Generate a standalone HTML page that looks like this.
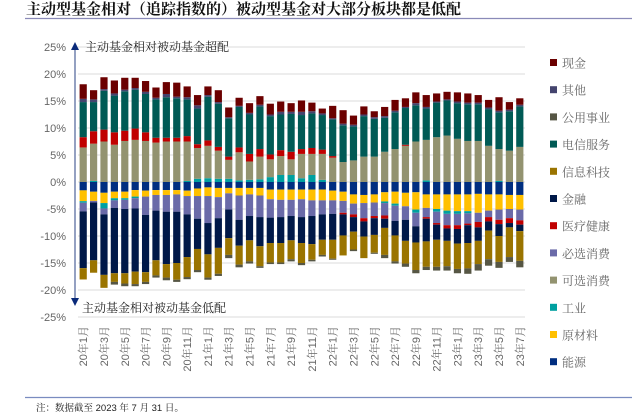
<!DOCTYPE html>
<html><head><meta charset="utf-8"><style>
html,body{margin:0;padding:0;background:#fff;width:632px;height:415px;overflow:hidden}
svg{display:block;font-family:"Liberation Sans","Noto Sans CJK SC",sans-serif}
.cj{font-family:"Liberation Sans","Noto Serif CJK SC",serif}
</style></head><body>
<svg id="chart" width="632" height="415" viewBox="0 0 632 415">
<text x="26" y="14" font-size="15" font-weight="bold" fill="#111" font-family="'Noto Serif CJK SC',serif">主动型基金相对（追踪指数的）被动型基金对大部分板块都是低配</text>
<line x1="25" y1="18.5" x2="632" y2="18.5" stroke="#8a8ab8" stroke-width="1.2"/>
<g id="grid"></g><g id="bars"></g><g id="axis"></g><g id="legend"></g>
<line x1="25" y1="397.5" x2="632" y2="397.5" stroke="#7a8cc0" stroke-width="1.2"/>
<text x="36" y="411" font-size="9.5" fill="#222" class="cj">注：数据截至 2023 年 7 月 31 日。</text>
</svg>
<script>
const months=[];for(let y=20;y<=23;y++)for(let m=1;m<=12;m++){if(y===23&&m>7)break;months.push(y+"年"+m+"月");}
const yTicks=[25,20,15,10,5,0,-5,-10,-15,-20,-25];
const seriesNames=["能源","原材料","工业","可选消费","必选消费","医疗健康","金融","电信服务","信息科技","公用事业","其他","现金"];
const seriesColors=["#002e80","#ffc000","#00a0a0","#939370","#6a6aa8","#c00000","#001848","#005a55","#9a7400","#565644","#44446e","#6b0000"];
const energy=[-1.55,-1.8,-2.0,-1.8,-1.8,-1.5,-1.6,-1.5,-1.5,-1.5,-1.6,-1.2,-1.0,-1.1,-1.1,-1.1,-1.1,-1.1,-1.4,-1.4,-1.4,-1.4,-1.4,-1.4,-1.6,-1.8,-2.3,-2.4,-2.3,-1.9,-1.8,-2.0,-1.9,-2.3,-2.3,-2.3,-2.3,-2.3,-2.2,-2.3,-2.3,-2.4,-2.4];
const materials=[-2.0,-1.7,-1.9,-1.2,-1.2,-1.2,-1.1,-0.9,-0.9,-0.8,-1.0,-1.4,-1.6,-1.7,-1.0,-1.4,-1.2,-1.4,-1.8,-1.9,-1.9,-1.8,-2.0,-2.0,-1.8,-1.7,-1.7,-1.5,-1.5,-1.7,-2.2,-2.5,-3.2,-2.5,-2.7,-3.0,-3.1,-3.1,-3.5,-3.0,-2.8,-2.6,-2.7];
const industrials=[-0.3,0.2,-1.0,-0.4,-0.3,-0.3,0,0,0,0,0.2,0.6,0.7,0.6,0.6,0.3,0.4,0.5,0.9,1.3,1.3,0.7,1.3,0.4,0,0,0,0,0,-0.3,-0.4,0,-0.6,0.3,-0.5,-0.6,-0.5,-0.4,0,0,0.2,0,0];
const discretionary=[6.4,6.9,7.5,6.9,7.6,7.8,7.6,7.3,7.5,7.5,7.3,5.7,6.0,5.2,3.5,5.2,3.4,4.2,3.3,3.5,2.9,4.5,3.9,4.8,4.5,3.7,4.0,4.7,4.7,5.6,6.1,6.7,7.5,7.5,8.3,8.6,8.0,7.6,7.6,6.7,5.9,5.8,6.5];
const staples=[-1.6,-0.3,-1.1,-1.4,-1.7,-1.9,-3.4,-2.9,-3.1,-3.2,-3.4,-4.2,-5.0,-3.9,-3.0,-4.5,-4.0,-4.0,-3.4,-3.2,-3.0,-3.3,-2.9,-2.6,-2.5,-2.2,-2.0,-2.8,-2.5,-2.3,-2.8,-2.5,-2.5,-1.7,-2.1,-2.1,-2.1,-1.9,-1.7,-1.2,-1.9,-1.7,-2.0];
const healthcare=[1.9,2.3,2.2,2.3,1.9,2.1,1.6,0.9,0.7,0.7,1.0,0.7,1.0,0.7,0.6,0.9,1.4,1.4,0.9,1.1,1.4,0.9,1.1,0.8,0.3,-0.3,-0.5,-0.6,-0.4,-0.6,0,0.2,0,-0.3,-0.3,-0.6,-0.7,-0.3,-1.0,-0.8,-0.8,-0.9,-0.8];
const financials=[-10.5,-10.7,-11.2,-12.1,-11.9,-11.7,-10.6,-9.2,-9.7,-9.5,-7.9,-5.6,-5.8,-5.5,-5.3,-4.8,-4.5,-5.4,-4.7,-4.8,-4.5,-4.8,-5.2,-4.7,-4.8,-3.9,-2.7,-2.8,-3.1,-1.7,-2.7,-3.9,-3.0,-4.2,-2.8,-2.3,-2.7,-3.3,-2.5,-1.7,-2.2,-0.8,-1.2];
const telecom=[6.5,5.4,7.2,6.8,7.3,7.2,7.1,7.1,7.5,7.3,6.8,6.6,8.1,8.0,7.1,7.5,7.3,7.9,7.1,6.6,7.0,6.3,6.4,6.4,6.8,6.8,6.3,7.5,7.0,6.3,6.8,6.8,6.7,5.8,6.4,6.5,6.6,6.8,6.8,6.8,6.8,7.3,7.5];
const infotech=[-2.1,-2.3,-2.4,-1.6,-1.9,-2.3,-1.8,-2.8,-2.5,-3.1,-3.7,-3.9,-4.3,-4.8,-3.1,-3.5,-3.9,-3.7,-3.6,-3.6,-3.5,-3.7,-2.9,-2.8,-3.5,-3.7,-3.3,-4.0,-3.3,-5.0,-4.8,-4.2,-5.1,-4.7,-5.0,-4.7,-4.7,-4.7,-4.3,-5.3,-4.8,-5.5,-5.5];
const utilities=[0,0,0,-0.5,-0.5,-0.4,-0.4,-0.4,-0.5,-0.4,-0.4,-0.4,-0.4,-0.4,-0.6,-0.5,-0.4,-0.3,-0.3,-0.3,-0.4,-0.4,-0.3,-0.3,-0.2,0,-0.3,0,-0.2,-0.6,-0.4,-0.6,-0.6,-0.6,-0.7,-0.8,-0.8,-1.0,-1.2,-1.2,-1.1,-0.9,-1.2];
const others=[0.6,0.5,0.3,0.4,0.3,0.3,0.4,0.3,0.6,0.3,0.4,0.6,0.3,0.3,0.2,0.2,0.3,0.3,0.3,0.5,0.4,0.6,0.4,0.3,0.2,0.3,0.3,0.3,0.3,0.3,0.3,0.2,0.4,0.3,0.2,0.2,0.3,0.3,0.3,0.3,0.3,0.3,0.3];
const cash=[2.7,1.7,2.2,2.4,2.2,1.9,2.0,1.9,2.2,2.6,2.0,1.9,1.6,2.2,1.8,1.5,1.8,1.6,2.0,1.9,1.6,2.1,1.6,0.9,2.3,2.5,1.7,1.5,1.1,1.7,2.0,1.6,2.0,2.2,1.5,1.4,1.7,1.7,1.4,1.4,2.5,1.4,1.2];
const seriesData=[energy,materials,industrials,discretionary,staples,healthcare,financials,telecom,infotech,utilities,others,cash];
const legendOrder=["现金","其他","公用事业","电信服务","信息科技","金融","医疗健康","必选消费","可选消费","工业","原材料","能源"];

const NS="http://www.w3.org/2000/svg";
const X0=78,X1=525,Y0=182,PXP=5.4;
const yScale=v=>Y0-v*PXP;
const step=(X1-X0)/months.length;
const xScale=i=>X0+step*(i+0.5);
function mk(tag,attrs,parent){const e=document.createElementNS(NS,tag);for(const k in attrs)e.setAttribute(k,attrs[k]);parent.appendChild(e);return e;}
const grid=document.getElementById('grid'),bars=document.getElementById('bars'),axis=document.getElementById('axis'),legend=document.getElementById('legend');

yTicks.forEach(t=>{
  const gl=mk('line',{x1:X0,x2:X1,y1:yScale(t),y2:yScale(t),stroke:'#e2e2e2','stroke-width':1.3},grid);
  
  
  const tl=mk('text',{x:66,y:yScale(t)+4,'text-anchor':'end','font-size':11,fill:'#666'},axis);
  tl.textContent=t+'%';
  
  
});

months.forEach((m,i)=>{
  let pos=0,neg=0;const cx=xScale(i),w=7.2;
  seriesData.forEach((arr,s)=>{
    const v=arr[i]||0;if(v===0)return;
    let y0,y1;
    if(v>0){y0=pos;pos+=v;y1=pos;}else{y0=neg;neg+=v;y1=neg;}
    const top=yScale(Math.max(y0,y1)),bot=yScale(Math.min(y0,y1));
    const r=mk('rect',{x:cx-w/2,y:top,width:w,height:Math.max(bot-top,0.3),fill:seriesColors[s]},bars);
    
    
  });
  if(i%2===0){
    const lx=cx+4,ly=326;
    const t=mk('text',{x:lx,y:ly,transform:`rotate(-90 ${lx} ${ly})`,'text-anchor':'end','font-size':11,fill:'#666',class:'cj'},axis);
    t.textContent=m;
    
    
  }
});

const va=mk('line',{x1:75,x2:75,y1:48,y2:300,stroke:'#5a6ea0','stroke-width':1.3},axis);


const au=mk('polygon',{points:'71,50 79,50 75,42',fill:'#0a2a7a'},axis);


const ad=mk('polygon',{points:'71,298 79,298 75,306',fill:'#0a2a7a'},axis);


const ot=mk('text',{x:85,y:51,'font-size':12,fill:'#222',class:'cj'},axis);
ot.textContent='主动基金相对被动基金超配';


const ut=mk('text',{x:82,y:312,'font-size':12,fill:'#222',class:'cj'},axis);
ut.textContent='主动基金相对被动基金低配';



legendOrder.forEach((n,k)=>{
  const s=seriesNames.indexOf(n),y=63+k*27.2;
  const sq=mk('rect',{x:550,y:y-4,width:7,height:7,fill:seriesColors[s]},legend);
  
  
  const t=mk('text',{x:562,y:y+4.5,'font-size':12,fill:'#666',class:'cj'},legend);
  t.textContent=n;
  
  
});
</script>
</body></html>
